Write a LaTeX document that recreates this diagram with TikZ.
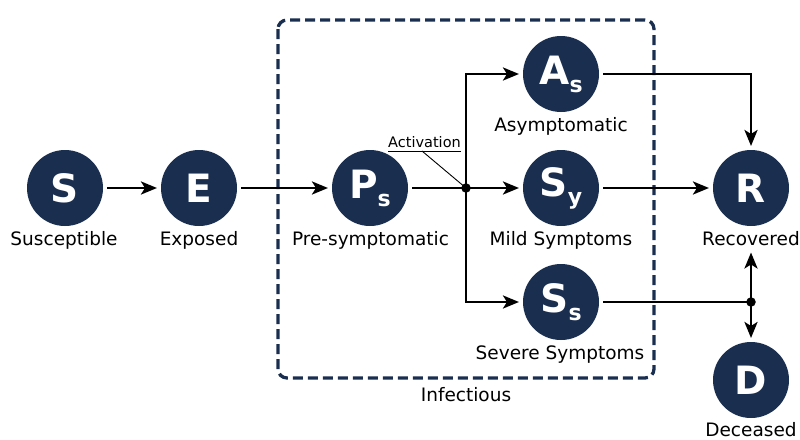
\documentclass[tikz,border=0pt]{standalone}
\usepackage{fontspec}
\setmainfont{DejaVu Sans}
\usetikzlibrary{arrows.meta}
\definecolor{navy}{HTML}{1A2E50}
\newcommand\lowsub[1]{\raisebox{-8pt}{\fontsize{22}{22}\selectfont #1}}

\begin{document}
\begin{tikzpicture}[x=1pt,y=-1pt,
  state/.style={circle,fill=navy,minimum size=76pt,inner sep=0pt,outer sep=4pt,
    text=white,font=\fontsize{39}{39}\selectfont\bfseries},
  lbl/.style={font=\fontsize{18.5}{20}\selectfont,inner sep=0pt,anchor=base},
  flow/.style={line width=2.8pt,-{Stealth[length=16pt,width=13pt,inset=4pt]}},
  link/.style={line width=2.8pt},
  dot/.style={circle,fill=black,minimum size=9.5pt,inner sep=0pt,outer sep=0pt}]
\useasboundingbox (0,0) rectangle (800,439);

% infectious compartment frame
\draw[navy,line width=3.3pt,dash pattern=on 10pt off 5pt,rounded corners=9pt]
  (278,20) rectangle (654,378);
\node[lbl] (inf) at (466,401) {Infectious};

% compartments
\node[state] (s)  at (65,188)  {S};
\node[state] (e)  at (199,188) {E};
\node[state] (ps) at (370,188) {P\lowsub{s}};
\node[state] (as) at (561,74)  {A\lowsub{s}};
\node[state] (sy) at (561,188) {S\lowsub{y}};
\node[state] (ss) at (561,302) {S\lowsub{s}};
\node[state] (r)  at (751,188) {R};
\node[state] (d)  at (751,380) {D};

% compartment names
\node[lbl] (slbl)  at (64,245)    {Susceptible};
\node[lbl] (elbl)  at (199,245)   {Exposed};
\node[lbl] (pslbl) at (370.5,245) {Pre-symptomatic};
\node[lbl] (aslbl) at (561,131)   {Asymptomatic};
\node[lbl] (sylbl) at (561,245)   {Mild Symptoms};
\node[lbl] (sslbl) at (560,359)   {Severe Symptoms};
\node[lbl] (rlbl)  at (751,245)   {Recovered};
\node[lbl] (dlbl)  at (751,436)   {Deceased};

% junctions
\node[dot] (j1) at (466,188) {};
\node[dot] (j2) at (751,302) {};

% transitions
\draw[flow] (s) -- (e);
\draw[flow] (e) -- (ps);
\draw[link] (ps) -- (j1.center);
\draw[flow] (j1.center) |- (as);
\draw[flow] (j1.center) -- (sy);
\draw[flow] (j1.center) |- (ss);
\draw[flow] (as) -| (r);
\draw[flow] (sy) -- (r);
\draw[link] (ss) -- (j2.center);
\draw[flow,shorten >=7pt] (j2.center) -- (j2.center |- rlbl.south);
\draw[flow] (j2.center) -- (d);

% activation annotation
\node[font=\fontsize{14.5}{16}\selectfont,inner sep=0pt,anchor=base] (act) at (424.5,147) {Activation};
\draw[line width=0.9pt] ([yshift=-4pt]act.base west) -- ([yshift=-4pt]act.base east);
\coordinate (ul) at ([xshift=-2.5pt,yshift=-4pt]act.base);
\draw[line width=0.9pt] (ul) -- (j1.center);
\end{tikzpicture}
\end{document}
